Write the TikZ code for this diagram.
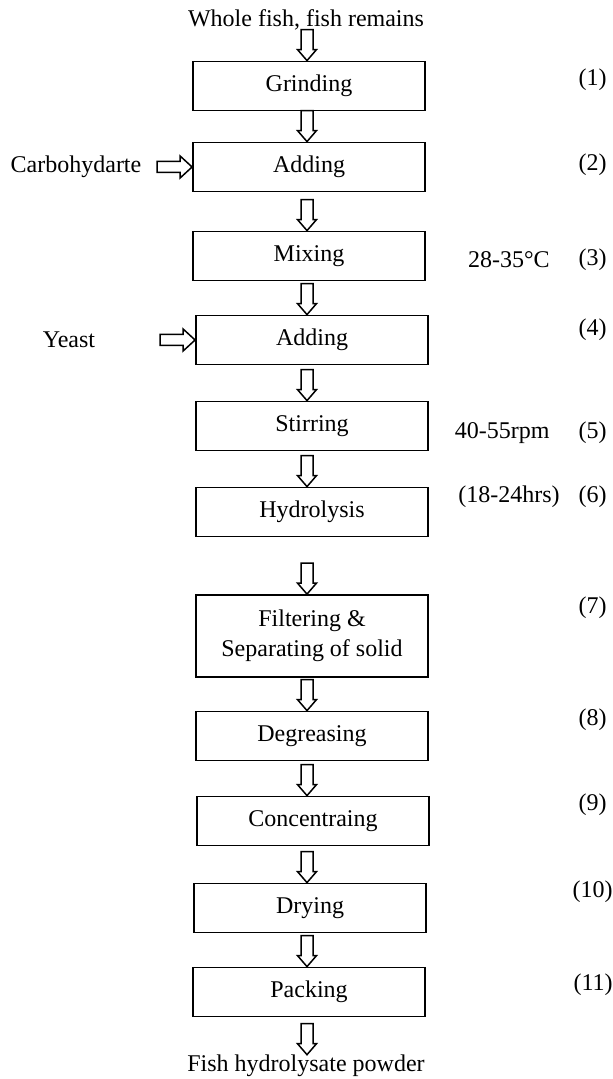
\documentclass[tikz,border=0pt]{standalone}
\usepackage{fontspec}
\setmainfont{Liberation Serif}
\usetikzlibrary{calc}
\newcommand\flowdown[1]{\draw[arrowline] ($(#1)+(-6,-31)$) -- ++(12,0) -- ++(0,20) -- ++(3.5,0) -- (#1) -- ++(-9.5,-11) -- ++(3.5,0) -- cycle;}
\newcommand\flowright[1]{\draw[arrowline] ($(#1)+(-35,-5.5)$) -- ++(23,0) -- ++(0,-5.5) -- (#1) -- ++(-12,11) -- ++(0,-5.5) -- ++(-23,0) -- cycle;}
\begin{document}
\begin{tikzpicture}[x=0.5pt,y=-0.5pt,
  stepbox/.style={draw,line width=0.9pt,minimum width=116pt,minimum height=24.5pt,inner sep=0pt,font=\fontsize{12}{15}\selectfont,align=center},
  arrowline/.style={draw,line width=0.75pt,line join=miter,fill=white},
  lbl/.style={font=\fontsize{12}{14}\selectfont,inner sep=0pt},
  num/.style={lbl,anchor=east}]
\useasboundingbox (0,0) rectangle (613,1079);
\coordinate (ax) at (307,0);
% top and bottom texts
\node[lbl] (src) at (306,20) {Whole fish, fish remains};
\node[lbl] (out) at (306,1066) {Fish hydrolysate powder};
% process boxes
\node[stepbox] (g1) at (309,86) {Grinding};
\node[stepbox] (g2) at (309,167) {Adding};
\node[stepbox] (g3) at (309,256) {Mixing};
\node[stepbox] (g4) at (312,340) {Adding};
\node[stepbox] (g5) at (312,426) {Stirring};
\node[stepbox] (g6) at (312,512) {Hydrolysis};
\node[stepbox,minimum height=41pt] (g7) at (312,636) {Filtering \&\\Separating of solid};
\node[stepbox] (g8) at (312,736) {Degreasing};
\node[stepbox] (g9) at (313,821) {Concentraing};
\node[stepbox] (g10) at (310,908) {Drying};
\node[stepbox] (g11) at (309,992) {Packing};
% down arrows, tip on the next box
\foreach \b in {g1,g2,g3,g4,g5,g6,g7,g8,g9,g10,g11,out}{
  \coordinate (tip\b) at (\b.north -| ax);
  \flowdown{tip\b}
}
% side inputs
\node[lbl] (carb) at (76,167) {Carbohydarte};
\node[lbl] (yeast) at (69,340) {Yeast};
\flowright{g2.west}
\flowright{g4.west}
% conditions
\node[num] (t3) at (550,260) {28-35°C};
\node[num] (t5) at (550,433) {40-55rpm};
\node[num] (t6) at (560,497) {(18-24hrs)};
% step numbers
\node[num] (n1) at (607,80) {(1)};
\node[num] (n2) at (607,165) {(2)};
\node[num] (n3) at (607,260) {(3)};
\node[num] (n4) at (607,330) {(4)};
\node[num] (n5) at (607,433) {(5)};
\node[num] (n6) at (607,497) {(6)};
\node[num] (n7) at (607,608) {(7)};
\node[num] (n8) at (607,720) {(8)};
\node[num] (n9) at (607,805) {(9)};
\node[num] (n10) at (613,892) {(10)};
\node[num] (n11) at (613,985) {(11)};
\end{tikzpicture}
\end{document}
